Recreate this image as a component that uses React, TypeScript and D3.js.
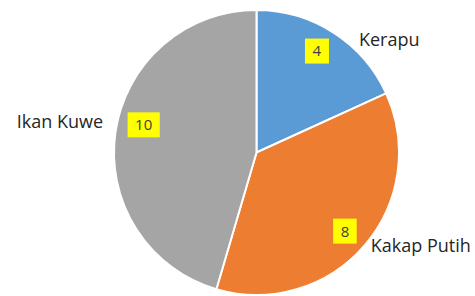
import React, { useEffect, useRef } from 'react'
import * as d3 from 'd3'

// data
const categories = ['Kerapu', 'Kakap Putih', 'Ikan Kuwe']
const values = [4, 8, 10]
const colors = ['#5B9BD5', '#ED7D31', '#A5A5A5']

// where the category names sit (angle in degrees clockwise from top, distance from centre)
const nameAngles = [49.7, 119.6, 278.8]
const nameDists = [174, 189, 199]
// small nudges of the value boxes off the centroid
const valNudge = [[-3, -3], [0, 2], [3, -11]]

export default function App() {
  const ref = useRef<SVGSVGElement>(null)

  const W = 475, H = 296
  const cx = 256.5, cy = 152.5, radius = 142.5

  useEffect(() => {
    const svg = d3.select(ref.current)
    svg.selectAll('*').remove()

    const g = svg.append('g').attr('transform', `translate(${cx},${cy})`)

    const pie = d3.pie<number>().sort(null).value(d => d)
    const arcs = pie(values)

    const arc = d3.arc<d3.PieArcDatum<number>>().innerRadius(0).outerRadius(radius)
    const labelArc = d3.arc<d3.PieArcDatum<number>>().innerRadius(117).outerRadius(117)

    //slices
    g.selectAll('path.slice')
      .data(arcs)
      .enter()
      .append('path')
      .attr('class', 'slice')
      .attr('d', arc)
      .style('fill', (d, i) => colors[i])
      .style('stroke', 'white')
      .style('stroke-width', 2)
      .style('stroke-linejoin', 'round')

    //value labels with yellow boxes
    const lab = g.selectAll('g.val')
      .data(arcs)
      .enter()
      .append('g')
      .attr('class', 'val')
      .attr('transform', (d, i) => {
        const c = labelArc.centroid(d)
        return 'translate(' + (c[0] + valNudge[i][0]) + ',' + (c[1] + valNudge[i][1]) + ')'
      })

    lab.append('rect')
      .style('fill', '#FFFF00')

    lab.append('text')
      .attr('text-anchor', 'middle')
      .attr('dy', '0.36em')
      .style('font-family', '"Open Sans", sans-serif')
      .style('font-size', '15px')
      .style('fill', '#404040')
      .text(d => d.data)

    lab.each(function () {
      const el = d3.select(this)
      const bb = (el.select('text').node() as SVGTextElement).getBBox()
      const padX = 7.5, h = 25
      el.select('rect')
        .attr('x', bb.x - padX)
        .attr('y', -h / 2)
        .attr('width', bb.width + padX * 2)
        .attr('height', h)
    })

    //category names
    g.selectAll('text.name')
      .data(categories)
      .enter()
      .append('text')
      .attr('class', 'name')
      .attr('text-anchor', 'middle')
      .attr('dy', '0.35em')
      .attr('x', (d, i) => nameDists[i] * Math.sin(nameAngles[i] * Math.PI / 180))
      .attr('y', (d, i) => -nameDists[i] * Math.cos(nameAngles[i] * Math.PI / 180))
      .style('font-family', '"Open Sans", sans-serif')
      .style('font-size', '18px')
      .style('fill', '#262626')
      .text(d => d)
  }, [])

  return (
    <svg
      ref={ref}
      width={W}
      height={H}
      style={{ position: 'absolute', left: 0, top: 0, background: 'white', display: 'block' }}
    />
  )
}
